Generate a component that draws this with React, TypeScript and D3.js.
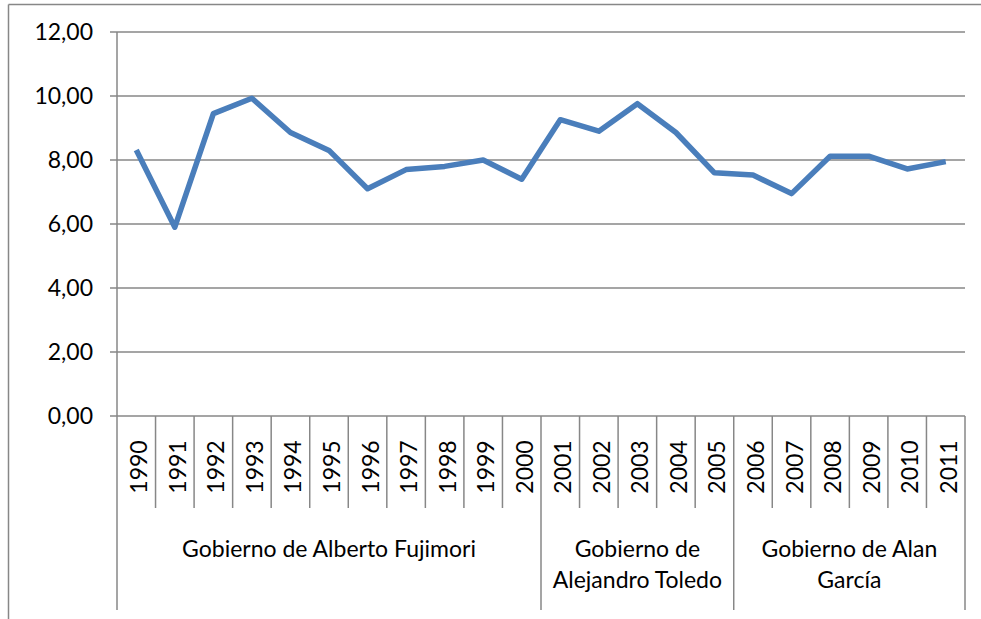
import React from "react";
import * as d3 from "d3";

const years = ["1990","1991","1992","1993","1994","1995","1996","1997","1998","1999","2000","2001","2002","2003","2004","2005","2006","2007","2008","2009","2010","2011"];
const values = [8.31, 5.9, 9.45, 9.93, 8.86, 8.3, 7.1, 7.7, 7.8, 8.0, 7.4, 9.26, 8.9, 9.76, 8.86, 7.6, 7.53, 6.95, 8.12, 8.12, 7.72, 7.95];
const groupNames = [["Gobierno de Alberto Fujimori"], ["Gobierno de", "Alejandro Toledo"], ["Gobierno de Alan", "García"]];
const groupSizes = [11, 5, 6];
const yTicks = [0, 2, 4, 6, 8, 10, 12];

const W = 981, H = 619;
const left = 117, right = 965, top = 32, bottom = 416;
const FONT = "Lato, 'Open Sans', sans-serif";
const GRID = "#878787";

export default function App() {
  const x = d3.scaleBand<string>().domain(years).range([left, right]).padding(0);
  const y = d3.scaleLinear().domain([0, 12]).range([bottom, top]);
  const line = d3.line<number>().x((_, i) => (x(years[i]) as number) + x.bandwidth() / 2).y((d) => y(d));
  const bw = x.bandwidth();

  const groupBounds: number[] = [0];
  groupSizes.forEach((s) => groupBounds.push(groupBounds[groupBounds.length - 1] + s));

  return (
    <svg width={W} height={H} style={{ position: "absolute", left: 0, top: 0, background: "#fff" }} fontFamily={FONT}>
      <rect x={0} y={0} width={W} height={H} fill="#fff" />
      <line x1={8.5} y1={4.5} x2={W} y2={4.5} stroke={GRID} strokeWidth={1.5} />
      <line x1={8.5} y1={4.5} x2={8.5} y2={H} stroke={GRID} strokeWidth={1.5} />

      {yTicks.map((t) => (
        <g key={t}>
          <line x1={left - 7} x2={right} y1={y(t)} y2={y(t)} stroke={GRID} strokeWidth={1.5} />
          <text x={93} y={y(t) + 8} textAnchor="end" fontSize={23} fill="#000">
            {t.toFixed(2).replace(".", ",")}
          </text>
        </g>
      ))}
      <line x1={left} x2={left} y1={top} y2={bottom} stroke={GRID} strokeWidth={1.5} />

      {d3.range(years.length + 1).map((i) => {
        const xx = left + i * bw;
        const isGroup = groupBounds.includes(i);
        return <line key={i} x1={xx} x2={xx} y1={bottom} y2={isGroup ? 610 : 508} stroke={GRID} strokeWidth={1.5} />;
      })}

      {years.map((yr) => {
        const cx = (x(yr) as number) + bw / 2;
        return (
          <text key={yr} transform={`translate(${cx + 11},467) rotate(-90)`} textAnchor="middle" fontSize={23} fill="#000">
            {yr}
          </text>
        );
      })}

      {groupNames.map((lines, gi) => {
        const cx = left + ((groupBounds[gi] + groupBounds[gi + 1]) / 2) * bw;
        return (
          <text key={gi} textAnchor="middle" fontSize={23} fill="#000">
            {lines.map((l, li) => (
              <tspan key={li} x={cx} y={557 + li * 31}>{l}</tspan>
            ))}
          </text>
        );
      })}

      <path d={line(values) || ""} fill="none" stroke="#4a7ebb" strokeWidth={5.5} strokeLinejoin="round" strokeLinecap="butt" />
    </svg>
  );
}
